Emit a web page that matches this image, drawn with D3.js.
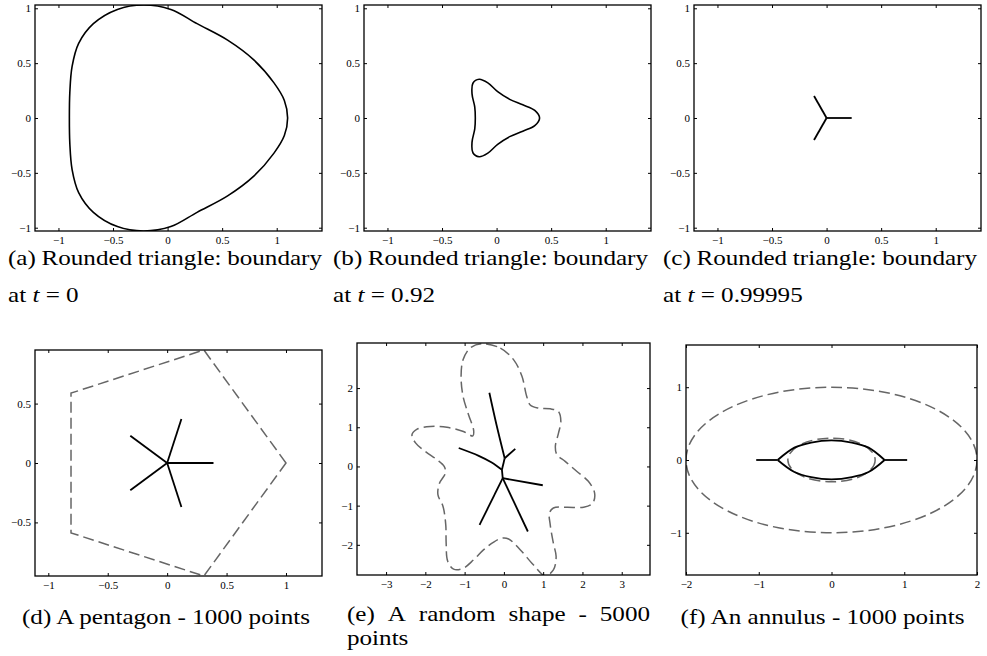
<!DOCTYPE html>
<html><head><meta charset="utf-8">
<script src="https://cdn.jsdelivr.net/npm/d3@7"></script>
<style>
body{margin:0;background:#fff;}
svg text{font-family:"Liberation Serif","Tinos","DejaVu Serif","Noto Serif","Times New Roman",serif;fill:#000;}
</style></head><body>
<svg id="chart" width="987" height="656"></svg>
<script>
// ---------- DATA ----------
const triangleT0 = [[1.10,0],[1.07,0.16],[0.975,0.32],[0.79,0.53],[0.55,0.71],[0.27,0.86],[0.03,0.99],[-0.22,1.03],[-0.46,0.99],[-0.68,0.86],[-0.815,0.68],[-0.875,0.47],[-0.896,0.23],[-0.90,0],[-0.896,-0.23],[-0.875,-0.47],[-0.815,-0.68],[-0.68,-0.86],[-0.46,-0.99],[-0.22,-1.03],[0.03,-0.99],[0.27,-0.86],[0.55,-0.71],[0.79,-0.53],[0.975,-0.32],[1.07,-0.16]];
const triangleT092 = [[0.394,0],[0.35,0.07],[0.24,0.12],[0.12,0.17],[0.01,0.24],[-0.08,0.32],[-0.16,0.353],[-0.217,0.317],[-0.225,0.22],[-0.20,0.10],[-0.195,0],[-0.20,-0.10],[-0.225,-0.22],[-0.217,-0.317],[-0.16,-0.353],[-0.08,-0.32],[0.01,-0.24],[0.12,-0.17],[0.24,-0.12],[0.35,-0.07]];
const triangleSkeleton = [[[0,0],[0.23,0]],[[0,0],[-0.115,0.2]],[[0,0],[-0.115,-0.2]]];
const pentagonVertices = [[1,0],[0.309,0.951],[-0.809,0.588],[-0.809,-0.588],[0.309,-0.951]];
const pentagonSkeleton = [[[0,0],[0.39,0]],[[0,0],[0.12,0.37]],[[0,0],[-0.31,0.23]],[[0,0],[-0.31,-0.23]],[[0,0],[0.12,-0.37]]];
const randomBoundary = [[-0.56,3.13],[-0.09,3.02],[0.25,2.72],[0.46,2.30],[0.58,1.79],[0.67,1.57],[0.88,1.49],[1.18,1.47],[1.39,1.40],[1.45,1.15],[1.39,0.85],[1.31,0.51],[1.35,0.30],[1.56,0.13],[1.86,-0.13],[2.15,-0.38],[2.31,-0.68],[2.26,-0.94],[2.03,-1.04],[1.60,-1.04],[1.26,-1.06],[1.16,-1.19],[1.18,-1.49],[1.26,-1.96],[1.33,-2.30],[1.26,-2.64],[1.05,-2.79],[0.75,-2.51],[0.42,-2.13],[0.12,-1.85],[-0.05,-1.83],[-0.26,-1.93],[-0.52,-2.13],[-0.77,-2.38],[-1.04,-2.60],[-1.28,-2.62],[-1.43,-2.42],[-1.47,-1.96],[-1.48,-1.49],[-1.55,-1.02],[-1.68,-0.72],[-1.64,-0.43],[-1.49,-0.17],[-1.52,0],[-1.70,0.17],[-2.0,0.38],[-2.25,0.60],[-2.34,0.81],[-2.21,0.95],[-1.87,1.02],[-1.45,1.00],[-1.03,0.89],[-0.79,0.78],[-0.77,0.92],[-0.90,1.32],[-1.04,1.79],[-1.09,2.30],[-1.04,2.72],[-0.86,3.02]];
const randomSkeleton = [
  [[-0.37,1.88],[-0.19,1.07],[0.02,0.21]],
  [[0.02,0.21],[0.29,0.45]],
  [[0.02,0.21],[-0.05,-0.085]],
  [[-1.15,0.47],[-0.64,0.27],[-0.31,0.10],[-0.05,-0.085]],
  [[-0.05,-0.085],[-0.03,-0.30]],
  [[-0.03,-0.30],[0.99,-0.48]],
  [[-0.03,-0.30],[-0.62,-1.49]],
  [[-0.03,-0.30],[0.61,-1.66]]
];
const annulusEllipses = [[2,1],[0.6,0.3]];
const annulusSkeleton = [
  [[-1.035,0],[-0.74,0]],
  [[-0.74,0],[-0.51,0.17],[-0.28,0.24],[0.0,0.27],[0.28,0.24],[0.51,0.17],[0.73,0]],
  [[-0.74,0],[-0.51,-0.165],[-0.28,-0.235],[0.0,-0.265],[0.28,-0.235],[0.51,-0.165],[0.73,0]],
  [[0.73,0],[1.04,0]]
];
const ticksTriX = [-1,-0.5,0,0.5,1], ticksTriY = [-1,-0.5,0,0.5,1];
const ticksPentX = [-1,-0.5,0,0.5,1], ticksPentY = [-0.5,0,0.5];
const ticksRandX = [-3,-2,-1,0,1,2,3], ticksRandY = [-2,-1,0,1,2];
const ticksAnnX = [-2,-1,0,1,2], ticksAnnY = [-1,0,1];
const captionLines = {
  a:["(a) Rounded triangle: boundary","0"],
  b:["(b) Rounded triangle: boundary","0.92"],
  c:["(c) Rounded triangle: boundary","0.99995"],
  d:["(d) A pentagon - 1000 points"],
  e:["(e) A random shape - 5000","points"],
  f:["(f) An annulus - 1000 points"]
};

// ---------- LAYOUT ----------
const svg = d3.select("#chart");
const SOLID = "#000", DASH = "#666666";
const fmt = d => (d<0?"\u2212":"") + Math.abs(d);
const CFS = 22, TFS = 11;

// caption stretch so the (d) caption is 288px wide (mimics the wider original face)
const probe = svg.append("text").attr("font-size",CFS+"px").text("(d) A pentagon - 1000 points");
const STRETCH = 288/probe.node().getComputedTextLength();
probe.remove();

function panel(id, box, xd, yd, tx, ty){
  const x = d3.scaleLinear().domain(xd).range([box[0], box[2]]);
  const y = d3.scaleLinear().domain(yd).range([box[3], box[1]]);
  const g = svg.append("g");
  const cid = "clip-"+id;
  svg.append("clipPath").attr("id",cid).append("rect")
    .attr("x",box[0]).attr("y",box[1]).attr("width",box[2]-box[0]).attr("height",box[3]-box[1]);
  const plot = g.append("g").attr("clip-path","url(#"+cid+")");
  const axes = [
    [d3.axisBottom(x).tickValues(tx).tickFormat(fmt).tickSizeInner(-3).tickSizeOuter(0).tickPadding(5), "translate(0,"+box[3]+")"],
    [d3.axisTop(x).tickValues(tx).tickFormat("").tickSizeInner(-3).tickSizeOuter(0), "translate(0,"+box[1]+")"],
    [d3.axisLeft(y).tickValues(ty).tickFormat(fmt).tickSizeInner(-3).tickSizeOuter(0).tickPadding(4), "translate("+box[0]+",0)"],
    [d3.axisRight(y).tickValues(ty).tickFormat("").tickSizeInner(-3).tickSizeOuter(0), "translate("+box[2]+",0)"]
  ];
  axes.forEach(([ax,tr])=>{
    const a = g.append("g").attr("transform",tr).call(ax).attr("font-family",null);
    a.select(".domain").remove();
    a.selectAll("line").attr("stroke","#000").attr("stroke-width",1);
    a.selectAll("text").attr("font-size",TFS+"px").attr("fill","#000");
  });
  g.append("rect").attr("x",box[0]).attr("y",box[1]).attr("width",box[2]-box[0]).attr("height",box[3]-box[1])
    .attr("fill","none").attr("stroke","#000").attr("stroke-width",1.3);
  return {x,y,plot};
}
function lineGen(p, curve){ return d3.line().x(d=>p.x(d[0])).y(d=>p.y(d[1])).curve(curve); }
function solidPaths(p, arr, curve){
  p.plot.selectAll(null).data(arr).join("path").attr("d", lineGen(p, curve))
    .attr("fill","none").attr("stroke",SOLID).attr("stroke-width",1.8).attr("stroke-linejoin","round");
}

// (a)
const pa = panel("a",[35,5,322,231],[-1.215,1.415],[-1.03,1.03],ticksTriX,ticksTriY);
pa.plot.append("path").datum(triangleT0).attr("d",lineGen(pa,d3.curveCatmullRomClosed.alpha(0.5)))
  .attr("fill","none").attr("stroke",SOLID).attr("stroke-width",1.6);
// (b)
const pb = panel("b",[364,5,651,231],[-1.215,1.415],[-1.03,1.03],ticksTriX,ticksTriY);
pb.plot.append("path").datum(triangleT092).attr("d",lineGen(pb,d3.curveCatmullRomClosed.alpha(0.5)))
  .attr("fill","none").attr("stroke",SOLID).attr("stroke-width",1.6);
// (c)
const pc = panel("c",[694,5,981,231],[-1.215,1.415],[-1.03,1.03],ticksTriX,ticksTriY);
solidPaths(pc, triangleSkeleton, d3.curveLinear);
// (d)
const pd = panel("d",[35,350,322,576],[-1.112,1.303],[-0.951,0.951],ticksPentX,ticksPentY);
pd.plot.append("path").datum(pentagonVertices).attr("d",lineGen(pd,d3.curveLinearClosed))
  .attr("fill","none").attr("stroke",DASH).attr("stroke-width",1.5).attr("stroke-dasharray","11,5");
solidPaths(pd, pentagonSkeleton, d3.curveLinear);
// (e)
const pe = panel("e",[357,343,650,575],[-3.74,3.72],[-2.77,3.15],ticksRandX,ticksRandY);
pe.plot.append("path").datum(randomBoundary).attr("d",lineGen(pe,d3.curveCatmullRomClosed.alpha(0.5)))
  .attr("fill","none").attr("stroke",DASH).attr("stroke-width",1.5).attr("stroke-dasharray","11,5");
solidPaths(pe, randomSkeleton, d3.curveCatmullRom.alpha(0.5));
// (f)
const pf = panel("f",[686,345,977,575],[-2,2],[-1.58,1.58],ticksAnnX,ticksAnnY);
pf.plot.selectAll(null).data(annulusEllipses).join("ellipse")
  .attr("cx",pf.x(0)).attr("cy",pf.y(0))
  .attr("rx",d=>pf.x(d[0])-pf.x(0)).attr("ry",d=>pf.y(0)-pf.y(d[1]))
  .attr("fill","none").attr("stroke",DASH).attr("stroke-width",1.5).attr("stroke-dasharray","11,5");
solidPaths(pf, annulusSkeleton, d3.curveCatmullRom.alpha(0.5));

// ---------- CAPTIONS ----------
function stretch(sel){
  const w = sel.node().getComputedTextLength();
  sel.attr("textLength", w*STRETCH).attr("lengthAdjust","spacingAndGlyphs");
  return w*STRETCH;
}
function justified(str, x0, x1, yb){
  const words = str.split(" ");
  const els = words.map(w => svg.append("text").attr("font-size",CFS+"px").attr("y",yb).text(w));
  const ws = els.map(e => stretch(e));
  const gap = (x1-x0-d3.sum(ws))/(words.length-1);
  let cx = x0;
  els.forEach((e,i)=>{ e.attr("x",cx); cx += ws[i]+gap; });
}
function tline(val, x0, yb){
  const t = svg.append("text").attr("font-size",CFS+"px").attr("x",x0).attr("y",yb);
  t.append("tspan").text("at ");
  t.append("tspan").attr("font-style","italic").text("t");
  t.append("tspan").text(" = "+val);
  stretch(t);
}
function centered(str, cx, yb){
  const t = svg.append("text").attr("font-size",CFS+"px").attr("y",yb).text(str);
  const w = stretch(t);
  t.attr("x", cx - w/2);
}
[["a",8,322],["b",333,648],["c",663,977]].forEach(([k,x0,x1])=>{
  justified(captionLines[k][0], x0, x1, 265);
  tline(captionLines[k][1], x0, 302);
});
centered(captionLines.d[0], 166, 624);
justified(captionLines.e[0], 347, 650, 621);
const pts = svg.append("text").attr("font-size",CFS+"px").attr("x",347).attr("y",645).text(captionLines.e[1]);
stretch(pts);
centered(captionLines.f[0], 822.5, 624);
</script>
</body></html>
